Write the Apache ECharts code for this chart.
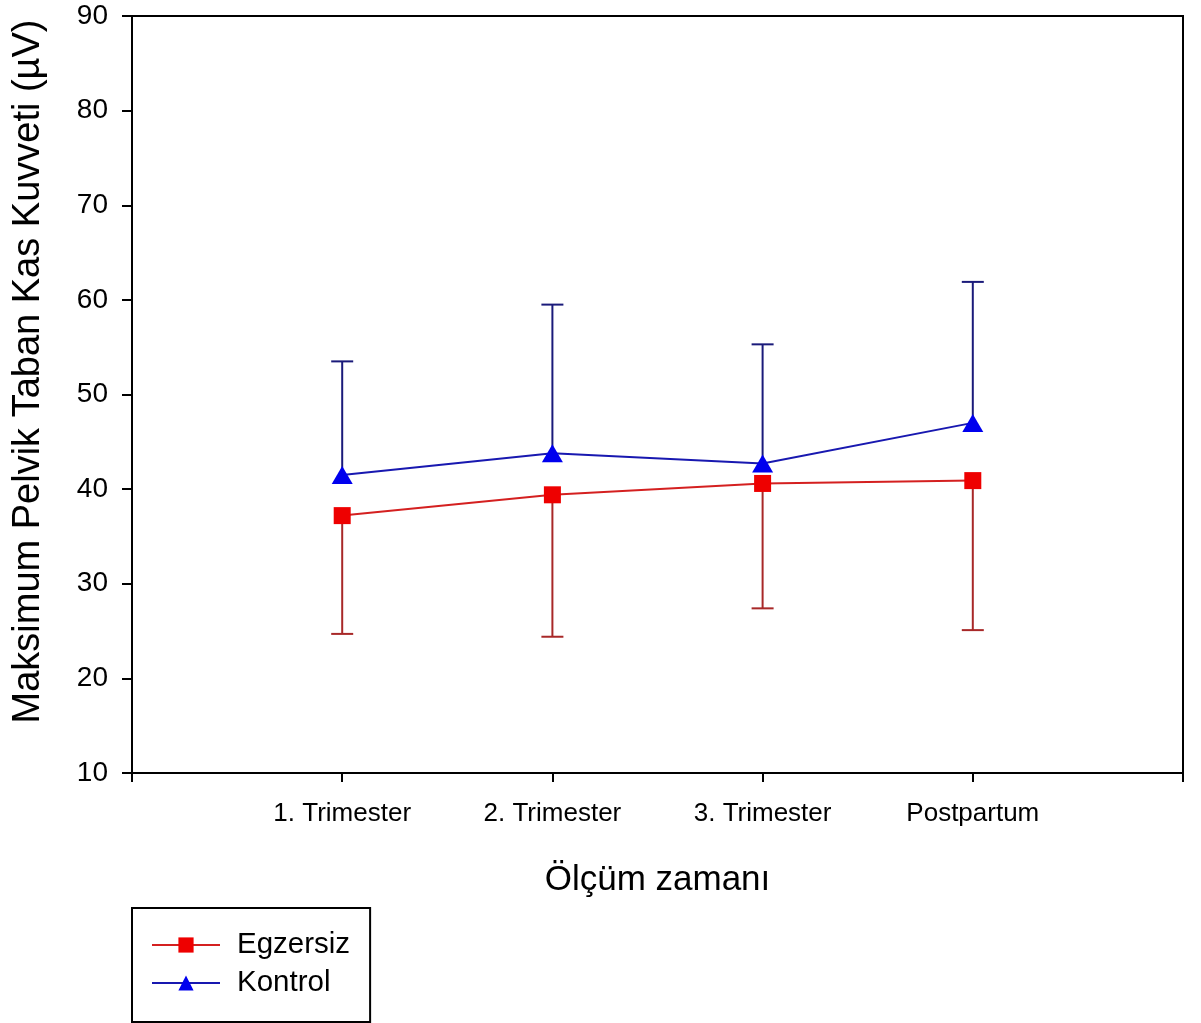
<!DOCTYPE html>
<html>
<head>
<meta charset="utf-8">
<script src="https://cdn.jsdelivr.net/npm/echarts@6/dist/echarts.min.js"></script>
<style>
html,body{margin:0;padding:0;background:#fff;}
#c{width:1201px;height:1023px;}
</style>
</head>
<body>
<div id="c"></div>
<script>
const categories = ['1. Trimester', '2. Trimester', '3. Trimester', 'Postpartum'];
const egzersizMean = [37.2, 39.4, 40.6, 40.9];
const egzersizLow = [24.7, 24.4, 27.4, 25.1];
const kontrolMean = [41.5, 43.8, 42.7, 47.0];
const kontrolHigh = [53.5, 59.5, 55.3, 61.9];
const yTicks = [10, 20, 30, 40, 50, 60, 70, 80, 90];

const FONT = '"Liberation Sans", Arial, sans-serif';
const axisData = [''].concat(categories).concat(['']);
const pad = v => [null].concat(v).concat([null]);

function errSeries(mean, ends, color) {
  const data = mean.map((m, i) => [i + 1, m, ends[i]]);
  return {
    type: 'custom',
    silent: true,
    z: 1,
    data: data,
    renderItem: function (params, api) {
      const p0 = api.coord([api.value(0), api.value(1)]);
      const p1 = api.coord([api.value(0), api.value(2)]);
      const hw = 11;
      return {
        type: 'group',
        children: [
          {type: 'line', shape: {x1: p0[0], y1: p0[1], x2: p1[0], y2: p1[1]}, style: {stroke: color, lineWidth: 2}},
          {type: 'line', shape: {x1: p1[0] - hw, y1: p1[1], x2: p1[0] + hw, y2: p1[1]}, style: {stroke: color, lineWidth: 2}}
        ]
      };
    }
  };
}

const chart = echarts.init(document.getElementById('c'), null, {renderer: 'canvas'});
chart.setOption({
  animation: false,
  backgroundColor: '#fff',
  textStyle: {fontFamily: FONT},
  grid: {left: 132, right: 18, top: 16, bottom: 250, show: true, borderColor: '#000', borderWidth: 2,
    backgroundColor: 'transparent', containLabel: false, outerBoundsMode: 'none'},
  xAxis: {
    type: 'category',
    data: axisData,
    boundaryGap: false,
    name: 'Ölçüm zamanı',
    nameLocation: 'middle',
    nameGap: 90,
    nameTextStyle: {fontFamily: FONT, fontSize: 35, color: '#000'},
    axisLine: {lineStyle: {color: '#000', width: 2}},
    axisTick: {show: true, length: 9, interval: 0, lineStyle: {color: '#000', width: 2}},
    axisLabel: {interval: 0, margin: 28, fontFamily: FONT, fontSize: 26, color: '#000'},
    splitLine: {show: false}
  },
  yAxis: {
    type: 'value',
    min: 10, max: 90, interval: 10,
    name: 'Maksimum Pelvik Taban Kas Kuvveti (µV)',
    nameLocation: 'middle',
    nameGap: 84,
    nameTextStyle: {fontFamily: FONT, fontSize: 38, color: '#000', padding: [0, 0, 0, 46]},
    axisLine: {show: true, lineStyle: {color: '#000', width: 2}},
    axisTick: {show: true, length: 10, lineStyle: {color: '#000', width: 2}},
    axisLabel: {margin: 24, fontFamily: FONT, fontSize: 28, color: '#000',
      formatter: v => yTicks.indexOf(v) >= 0 ? String(v) : ''},
    splitLine: {show: false}
  },
  legend: {
    orient: 'vertical',
    left: 132, top: 908,
    padding: [22, 20, 24, 19],
    itemGap: 8,
    itemWidth: 68, itemHeight: 19,
    borderColor: '#000', borderWidth: 2,
    backgroundColor: '#fff',
    textStyle: {fontFamily: FONT, fontSize: 29.5, color: '#000', padding: [0, 0, 0, 12]},
    data: ['Egzersiz', 'Kontrol']
  },
  series: [
    errSeries(egzersizMean, egzersizLow, '#a82828'),
    errSeries(kontrolMean, kontrolHigh, '#1a1a7a'),
    {
      name: 'Egzersiz', type: 'line', data: pad(egzersizMean), z: 3,
      symbol: 'rect', symbolSize: 17,
      lineStyle: {color: '#d42020', width: 2},
      itemStyle: {color: '#ee0000'}
    },
    {
      name: 'Kontrol', type: 'line', data: pad(kontrolMean), z: 3,
      symbol: 'triangle', symbolSize: [21, 18],
      lineStyle: {color: '#1818b0', width: 2},
      itemStyle: {color: '#0000ee'}
    }
  ]
});
</script>
</body>
</html>
